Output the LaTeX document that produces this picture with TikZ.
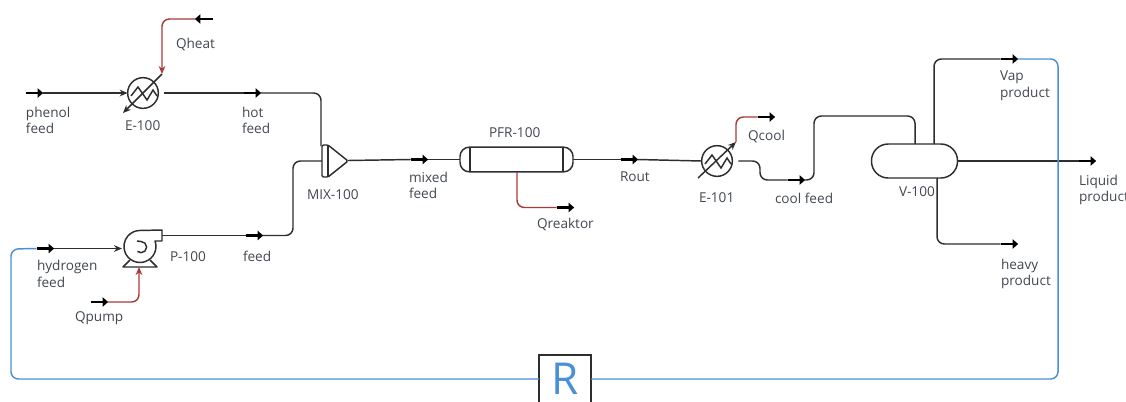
\documentclass[tikz,border=0pt]{standalone}
\usepackage{fontspec}
\setmainfont{Open Sans}
\usetikzlibrary{arrows.meta}
\definecolor{ln}{HTML}{2E2E2E}
\definecolor{txt}{HTML}{434850}
\definecolor{redl}{HTML}{A93A3A}
\definecolor{bluel}{HTML}{4A90D9}
\tikzset{
  x=0.75pt,y=-0.75pt,
  every node/.style={inner sep=0pt,outer sep=0pt},
  strm/.style={minimum width=12.75pt,minimum height=6pt},
  mk/.style={line width=2pt,black,-{Triangle[length=4.2pt,width=7pt]},shorten >=-0.5pt},
  pipe/.style={line width=1.1pt,ln,rounded corners=5.5pt},
  sline/.style={line width=1.1pt,ln},
  enrg/.style={line width=1.1pt,redl,rounded corners=5.5pt},
  rec/.style={line width=1.1pt,bluel,rounded corners=5.5pt},
  unit/.style={line width=1.1pt,ln,fill=white},
  lab/.style={font=\fontsize{10.2pt}{12.5pt}\selectfont,text=txt,align=left,anchor=west},
  tip/.style={-{Stealth[length=6pt,width=5pt]}},
  hx/.style={circle,draw=ln,line width=1.1pt,minimum size=23pt,fill=white},
}
\newcommand{\smark}[4]{%
  \node[strm] (#1) at (#2,#3) {};
  \ifnum#4=0 \draw[mk] (#1.west) -- (#1.east);\else\draw[mk] (#1.east) -- (#1.west);\fi}
\begin{document}
\begin{tikzpicture}
\useasboundingbox (0,0) rectangle (1126,401);
\fill[white] (0,0) rectangle (1126,401);

% equipment
\node[hx] (e100) at (143,93) {};
\node[hx] (e101) at (717,161) {};
\node[minimum width=16pt,minimum height=24pt] (mix) at (335,161) {};
\node[minimum width=84.75pt,minimum height=18.5pt,draw=ln,line width=1.1pt,rounded corners=7pt] (pfr) at (516.5,159.5) {};
\node[minimum width=64.5pt,minimum height=25.5pt,draw=ln,line width=1.1pt,rounded corners=12.5pt,fill=white] (v100) at (914.5,161) {};
\node[minimum width=24pt,minimum height=24pt,circle] (pump) at (140,247) {};
\begin{scope}
\clip (0,0) rectangle (1126,401);
\node[draw=ln,line width=1.4pt,minimum width=39pt,minimum height=45pt,fill=white,anchor=north] (rbox) at (565,355) {};
\end{scope}
\node[text=bluel,font=\fontsize{33pt}{33pt}\selectfont] (rtxt) at (565,379) {R};

% mixer
\draw[unit,rounded corners=1pt] (322,145) -- (328,145) -- (348,161) -- (328,177) -- (322,177) -- cycle;
\draw[unit] (328,145) -- (328,177);

% PFR inner lines
\draw[unit] (470,147.5) -- (470,171.5);
\draw[unit] (563,147.5) -- (563,171.5);

% E-100 details
\draw[unit,fill=none] (131,96) -- (138,87) -- (147,100) -- (153,90) -- (157,96);
\draw[sline,tip] (162,74) -- (123,113);
% E-101 details
\draw[unit,fill=none] (705,164) -- (712,155) -- (721,168) -- (727,158) -- (731,164);
\draw[sline,tip] (698,178) -- (736,142);

% pump
\draw[unit,fill=white,line join=round] (162,230) -- (162,241) -- (155,241) arc[start angle=20,end angle=-270,radius=12pt] -- cycle;
\draw[unit,fill=none] (137,241) -- (141,241.5) arc[start angle=90,end angle=-130,radius=4.2pt];
\draw[unit,fill=none,line join=round] (130,260) -- (123,267) -- (157,267) -- (150,260);

% stream markers
\smark{phenol}{34}{93}{0}
\smark{hot}{252}{93}{0}
\smark{qheat}{204}{19}{1}
\smark{hyd}{45}{248.5}{0}
\smark{feed}{254}{235.5}{0}
\smark{qpump}{99}{302}{0}
\smark{mixed}{419}{159.5}{0}
\smark{qreak}{565}{207.5}{0}
\smark{rout}{629}{159.5}{0}
\smark{qcool}{766}{117}{0}
\smark{cool}{796}{180}{0}
\smark{vap}{1009}{59}{0}
\smark{liq}{1087}{161}{0}
\smark{heavy}{1009}{244}{0}

% process streams
\draw[sline,tip] (phenol.east) -- (e100.west);
\draw[pipe,shorten <=4.5pt] (e100.east) -- (hot.west);
\draw[pipe] (hot.east) -- (321,93) -- (321,146);
\draw[sline] (348,160.5) -- (mixed.west);
\draw[pipe] (feed.east) -- (293,235.5) -- (293,161) -- (322,161);
\draw[pipe] (162,235.5) -- (feed.west);
\draw[sline,tip] (hyd.east) -- (122,248.5);
\draw[sline] (mixed.east) -- (pfr.west);
\draw[sline] (pfr.east) -- (rout.west);
\draw[sline] (rout.east) -- (e101.west);
\draw[pipe,shorten <=4.5pt] (e101.east) -- (760,161) -- (760,180) -- (cool.west);
\draw[pipe] (cool.east) -- (814,180) -- (814,116) -- (915,116) -- (915,144);
\draw[pipe] (934,144) -- (934,59) -- (vap.west);
\draw[sline] (v100.east) -- (liq.west);
\draw[pipe] (937,178) -- (937,244) -- (heavy.west);

% energy streams
\draw[enrg,tip] (qheat.west) -- (162,19) -- (162,74);
\draw[enrg,tip] (qpump.east) -- (139,302) -- (139,267);
\draw[enrg] (517,172) -- (517,207.5) -- (qreak.west);
\draw[enrg] (736,142) -- (736,117) -- (qcool.west);

% recycle
\draw[rec] (vap.east) -- (1058,59) -- (1058,379) -- (rbox.east|-rtxt);
\draw[rec] (rbox.west|-rtxt) -- (11,379) -- (11,249) -- (hyd.west);

% labels
\node[lab] (l1) at (26,120.5) {phenol\\feed};
\node[lab] (l2) at (125,126) {E-100};
\node[lab] (l3) at (176,44.5) {Qheat};
\node[lab] (l4) at (242,120.5) {hot\\feed};
\node[lab] (l5) at (307,194.5) {MIX-100};
\node[lab] (l6) at (409,185.5) {mixed\\feed};
\node[lab] (l7) at (489,133) {PFR-100};
\node[lab] (l8) at (537,224) {Qreaktor};
\node[lab] (l9) at (620,177) {Rout};
\node[lab] (l10) at (699,197.5) {E-101};
\node[lab] (l11) at (748,136) {Qcool};
\node[lab] (l12) at (775,198.5) {cool feed};
\node[lab] (l13) at (899,191.5) {V-100};
\node[lab] (l14) at (1000,86) {Vap\\product};
\node[lab] (l15) at (1079,190) {Liquid\\product};
\node[lab] (l16) at (1001,274) {heavy\\product};
\node[lab] (l17) at (37,274) {hydrogen\\feed};
\node[lab] (l18) at (170,256.5) {P-100};
\node[lab] (l19) at (243,256.5) {feed};
\node[lab] (l20) at (75,318.5) {Qpump};
\end{tikzpicture}
\end{document}
